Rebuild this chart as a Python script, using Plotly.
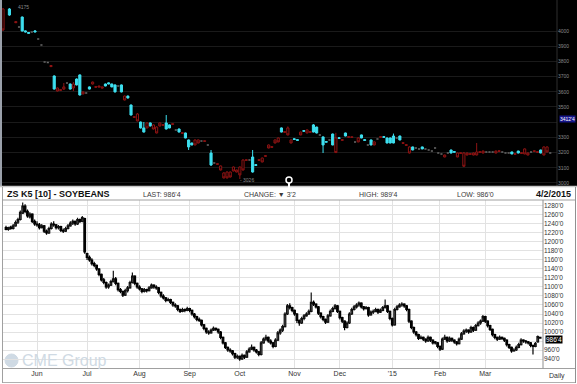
import pandas as pd
import plotly.graph_objects as go

W, H = 577, 384

# ---------------- bottom chart: ZS K5 daily (cents) ----------------
bot_open = [
    1232,1228,1233,1230,1236,1244,1250,1264,1280,1268,
    1256,1262,1246,1240,1238,1232,1236,1224,1220,1230,
    1240,1238,1232,1234,1226,1224,1230,1236,1242,1246,
    1240,1250,1246,1252,1174,1166,1160,1152,1148,1140,
    1128,1116,1110,1100,1104,1112,1118,1108,1094,1090,
    1082,1092,1098,1110,1124,1108,1100,1096,1090,1094,
    1092,1098,1104,1100,1098,1088,1080,1076,1070,1072,
    1066,1060,1058,1050,1046,1050,1048,1052,1048,1040,
    1034,1028,1026,1016,1008,1000,998,1004,1008,1006,
    1000,988,976,966,960,958,952,944,946,940,
    948,944,956,962,966,960,956,950,976,984,
    988,980,976,968,982,998,1004,1012,1040,1058,
    1054,1048,1040,1026,1020,1030,1036,1040,1046,1066,
    1062,1056,1042,1034,1028,1022,1036,1046,1052,1058,
    1046,1032,1024,1010,1020,1040,1050,1056,1060,1064,
    1056,1052,1054,1038,1044,1046,1050,1044,1048,1054,
    1058,1046,1030,1016,1050,1056,1060,1062,1058,1050,
    1024,1010,1000,994,986,988,984,980,988,982,
    978,976,968,962,984,988,980,986,982,978,
    974,984,996,1002,1004,1000,1010,1004,1014,1020,
    1024,1034,1024,1014,1006,994,988,984,988,986,
    982,972,966,958,960,966,972,982,980,978,
    976,970,968,978,988]
bot_high = [
    1236,1234,1236,1240,1248,1254,1270,1288,1284,1272,
    1266,1264,1250,1246,1242,1240,1238,1228,1234,1244,
    1246,1240,1238,1236,1230,1234,1240,1246,1250,1248,
    1254,1252,1258,1254,1176,1170,1164,1156,1150,1142,
    1130,1120,1112,1108,1116,1136,1122,1110,1098,1092,
    1096,1102,1114,1132,1126,1110,1104,1098,1098,1096,
    1102,1108,1106,1104,1100,1090,1084,1078,1076,1074,
    1068,1064,1060,1052,1054,1052,1056,1054,1050,1042,
    1036,1032,1028,1018,1010,1004,1008,1012,1010,1008,
    1002,990,978,968,964,960,954,950,948,952,
    950,960,966,972,968,962,958,980,988,994,
    990,984,978,986,1002,1008,1016,1044,1062,1064,
    1056,1050,1042,1028,1034,1040,1044,1050,1088,1070,
    1064,1058,1044,1036,1030,1040,1050,1056,1062,1060,
    1048,1034,1026,1024,1044,1054,1060,1064,1068,1066,
    1058,1058,1056,1048,1050,1054,1052,1052,1058,1072,
    1060,1048,1032,1054,1060,1064,1066,1064,1060,1052,
    1026,1012,1002,996,992,990,986,992,990,984,
    980,978,970,988,994,990,990,988,984,980,
    988,1000,1006,1008,1006,1014,1012,1018,1024,1028,
    1038,1036,1026,1016,1008,996,990,992,990,988,
    984,974,968,964,970,976,986,984,982,980,
    978,972,978,992,989.5]
bot_low = [
    1226,1225,1227,1228,1234,1240,1248,1262,1264,1254,
    1252,1242,1236,1234,1228,1230,1220,1216,1218,1228,
    1234,1228,1228,1222,1220,1222,1228,1234,1238,1236,
    1238,1242,1244,1174,1160,1156,1148,1144,1136,1124,
    1112,1106,1096,1096,1102,1110,1104,1090,1086,1078,
    1080,1088,1096,1108,1104,1096,1092,1086,1088,1088,
    1090,1096,1096,1094,1084,1076,1072,1066,1068,1062,
    1056,1054,1046,1042,1044,1044,1046,1044,1036,1030,
    1024,1022,1012,1004,996,994,996,1002,1002,996,
    984,972,962,956,954,948,940,940,936,938,
    940,942,954,960,956,952,946,948,974,980,
    976,972,964,966,980,994,1000,1010,1038,1050,
    1044,1036,1020,1014,1018,1026,1034,1038,1044,1058,
    1052,1038,1030,1024,1018,1020,1034,1044,1050,1042,
    1028,1020,1004,1008,1018,1038,1048,1052,1056,1052,
    1048,1050,1034,1036,1040,1044,1040,1042,1046,1052,
    1042,1026,1012,1014,1048,1054,1056,1054,1046,1020,
    1006,996,990,982,984,980,976,978,978,972,
    972,964,958,960,982,976,978,978,974,970,
    972,982,994,998,996,998,1000,1002,1012,1016,
    1022,1020,1010,1002,990,984,980,982,982,978,
    968,962,954,956,958,964,970,976,974,972,
    966,950,966,976,986]
bot_close = [
    1228,1232,1230,1236,1243,1250,1266,1280,1268,1258,
    1262,1246,1240,1238,1232,1236,1224,1220,1230,1240,
    1238,1232,1234,1226,1224,1230,1236,1242,1246,1240,
    1250,1246,1254,1178,1166,1160,1152,1148,1140,1128,
    1116,1110,1100,1104,1112,1118,1108,1094,1090,1082,
    1092,1098,1110,1124,1108,1100,1096,1090,1094,1092,
    1098,1104,1100,1098,1088,1080,1076,1070,1072,1066,
    1060,1058,1050,1046,1050,1048,1052,1048,1040,1034,
    1028,1026,1016,1008,1000,998,1004,1008,1006,1000,
    988,976,966,960,958,952,944,946,940,948,
    944,956,962,966,960,956,950,976,984,988,
    980,976,968,982,998,1004,1012,1040,1058,1054,
    1048,1040,1026,1020,1030,1036,1040,1046,1066,1062,
    1056,1042,1034,1028,1022,1036,1046,1052,1058,1046,
    1032,1024,1010,1020,1040,1050,1056,1060,1064,1056,
    1052,1054,1038,1044,1046,1050,1044,1048,1054,1058,
    1046,1030,1016,1050,1056,1060,1062,1058,1050,1024,
    1010,1000,994,986,988,984,980,988,982,976,
    976,968,962,984,988,980,986,982,978,974,
    984,996,1002,1004,1000,1010,1004,1014,1020,1024,
    1034,1024,1014,1006,994,988,984,988,986,982,
    972,966,958,960,966,972,982,980,978,976,
    970,968,974,989.75,986.5]

holidays = ["2014-05-26", "2014-07-04", "2014-09-01", "2014-11-27",
            "2014-12-25", "2015-01-01", "2015-01-19", "2015-02-16"]
dates = pd.bdate_range("2014-05-13", "2015-04-02", freq="C", holidays=holidays)

bot_price_ticks = list(range(940, 1281, 20))
# 980'0 sits under the last-price box in the original, so its text is hidden
bot_price_labels = ["" if v == 980 else f"{v}'0" for v in bot_price_ticks]

# ---------------- top chart (dark panel) ----------------
top_open = [
    4145,None,4105,None,4062,4026,4000,3993,3984,3993,
    3993,3947,3908,3796,3793,3773,3618,3625,3614,3632,
    3658,3618,3651,3645,3579,3599,3592,3618,3664,3634,
    3638,3632,3638,3651,3632,3599,3638,3599,3572,3559,
    3447,3436,3454,3362,3335,3395,3375,3382,3368,3395,
    3384,3355,3362,3390,3349,3335,3331,3296,3237,3250,
    3283,3283,3276,3278,3250,3118,3131,3127,3112,3066,
    3072,3072,3105,3085,3105,3151,3153,3151,3072,3115,
    3153,3164,3180,3250,3239,3283,3296,3335,3338,3362,
    3283,3286,3280,3335,3340,3349,3338,3335,3329,3316,
    3250,3268,3283,3250,3296,3293,3285,3309,3305,3304,
    3270,3296,3296,3280,3250,3250,3270,3289,3305,3300,
    3263,3263,3263,3296,3283,3265,3252,3237,3217,3230,
    3224,3224,3224,3217,3210,3230,3197,3191,3184,3197,
    3197,3202,3197,3199,3197,3197,3193,3197,3204,3206,
    3210,3204,3204,3204,3210,3212,3204,3197,3197,3191,
    3193,3197,3199,3224,3197,3204,3212,3206,3197,3237,
    3237,3197]
top_high = [
    4151,None,4151,None,4066,4029,4095,4002,3992,3996,
    4003,3950,3911,3799,3796,3776,3708,3628,3616,3658,
    3661,3654,3664,3688,3714,3602,3595,3635,3667,3636,
    3640,3634,3654,3660,3654,3648,3641,3648,3575,3575,
    3516,3438,3460,3404,3401,3398,3398,3385,3372,3398,
    3386,3447,3385,3392,3352,3358,3333,3331,3286,3265,
    3286,3286,3279,3280,3253,3217,3134,3129,3115,3070,
    3076,3075,3108,3088,3108,3155,3155,3154,3217,3122,
    3155,3167,3182,3253,3241,3286,3299,3365,3340,3372,
    3286,3292,3286,3338,3346,3352,3340,3388,3370,3319,
    3306,3274,3286,3325,3330,3299,3287,3331,3307,3306,
    3273,3300,3318,3286,3253,3286,3273,3292,3307,3306,
    3299,3299,3325,3299,3311,3267,3254,3240,3239,3233,
    3227,3239,3227,3220,3213,3233,3200,3194,3186,3200,
    3219,3208,3200,3201,3204,3200,3195,3200,3263,3208,
    3213,3207,3207,3207,3213,3214,3207,3200,3200,3206,
    3195,3212,3201,3227,3200,3207,3214,3208,3219,3240,
    3240,3200]
top_low = [
    4000,None,4100,None,4052,4023,3997,3990,3982,3990,
    3991,3944,3905,3793,3790,3762,3615,3602,3608,3612,
    3655,3615,3605,3642,3575,3584,3589,3615,3648,3628,
    3630,3623,3636,3649,3630,3596,3635,3596,3543,3556,
    3444,3430,3405,3358,3332,3360,3372,3352,3326,3372,
    3378,3352,3360,3384,3346,3333,3325,3294,3217,3248,
    3248,3261,3273,3272,3247,3112,3128,3121,3082,3030,
    3030,3036,3076,3070,3026,3082,3147,3148,3068,3113,
    3147,3136,3174,3228,3233,3261,3268,3333,3332,3314,
    3261,3284,3278,3314,3338,3327,3332,3333,3326,3313,
    3197,3266,3280,3248,3197,3291,3279,3307,3299,3298,
    3267,3268,3294,3278,3247,3248,3248,3286,3299,3298,
    3261,3261,3261,3293,3281,3259,3246,3194,3215,3227,
    3221,3222,3221,3214,3207,3227,3194,3188,3169,3194,
    3195,3200,3169,3193,3105,3182,3187,3182,3182,3200,
    3195,3201,3201,3201,3195,3206,3201,3194,3194,3189,
    3187,3195,3193,3189,3182,3201,3206,3200,3195,3182,
    3202,3194]
top_close = [
    4007,None,4145,None,4055,4026,4092,4000,3990,3993,
    4000,3947,3908,3796,3793,3766,3704,3605,3610,3618,
    3658,3651,3625,3684,3711,3586,3592,3632,3651,3630,
    3632,3625,3651,3658,3651,3645,3638,3645,3546,3572,
    3513,3432,3408,3401,3362,3362,3395,3355,3329,3375,
    3380,3395,3382,3386,3349,3355,3327,3329,3283,3263,
    3250,3263,3276,3274,3250,3197,3131,3123,3085,3033,
    3033,3039,3079,3072,3053,3085,3149,3151,3171,3120,
    3149,3138,3176,3230,3235,3263,3270,3362,3334,3316,
    3263,3290,3284,3316,3344,3329,3334,3382,3368,3316,
    3303,3272,3283,3322,3200,3297,3281,3329,3301,3300,
    3270,3270,3316,3284,3250,3283,3250,3289,3301,3304,
    3296,3296,3309,3296,3309,3261,3248,3197,3237,3230,
    3224,3237,3224,3217,3210,3230,3197,3191,3171,3197,
    3217,3206,3171,3195,3110,3184,3189,3184,3184,3202,
    3197,3204,3204,3204,3197,3208,3204,3197,3197,3204,
    3189,3210,3195,3191,3184,3204,3208,3202,3217,3184,
    3204,3197]
top_price_ticks = list(range(3000, 4001, 100))
# 3400 is covered by the 3412'4 marker in the original
top_price_labels = ["" if v == 3400 else str(v) for v in top_price_ticks]

FONT = "Arial, Liberation Sans, sans-serif"
CYAN = "#3ee0f0"
DRED = "#8e1414"
GRAY = "#6a6a6a"


def px(x):
    return x / W


def py(y):
    return 1 - y / H


fig = go.Figure()

# ---- top chart traces ----
ids = [i for i in range(len(top_open)) if top_open[i] is not None]
groups = {
    "up": [i for i in ids if top_close[i] > top_open[i]],
    "dn": [i for i in ids if top_close[i] < top_open[i]],
    "fl": [i for i in ids if top_close[i] == top_open[i]],
}
styles = {
    "up": dict(line=dict(color=CYAN, width=1), fillcolor=CYAN),
    "dn": dict(line=dict(color=DRED, width=1), fillcolor="#000000"),
    "fl": dict(line=dict(color=GRAY, width=1.5), fillcolor=GRAY),
}
for key, sel in groups.items():
    fig.add_trace(go.Candlestick(
        x=sel,
        open=[top_open[i] for i in sel], high=[top_high[i] for i in sel],
        low=[top_low[i] for i in sel], close=[top_close[i] for i in sel],
        increasing=styles[key], decreasing=styles[key],
        whiskerwidth=0, xaxis="x", yaxis="y", showlegend=False, hoverinfo="skip"))

# ---- bottom chart trace ----
n = len(bot_close)
fig.add_trace(go.Candlestick(
    x=list(range(n)), open=bot_open, high=bot_high, low=bot_low, close=bot_close,
    increasing=dict(line=dict(color="#111111", width=1.2), fillcolor="#7a7a7a"),
    decreasing=dict(line=dict(color="#000000", width=1.2), fillcolor="#000000"),
    whiskerwidth=0, xaxis="x2", yaxis="y2", showlegend=False, hoverinfo="skip"))

tickvals, ticktext = [], []
for i in range(1, min(n, len(dates)) - 5):
    if dates[i].month != dates[i - 1].month:
        tickvals.append(i)
        ticktext.append("'15" if dates[i].month == 1 else dates[i].strftime("%b"))

shapes = [
    # dark top panel
    dict(type="rect", xref="paper", yref="paper", x0=0, x1=1, y0=py(186), y1=1,
         fillcolor="#000000", line=dict(width=0), layer="below"),
    dict(type="line", xref="paper", yref="paper", x0=px(1), x1=px(1), y0=py(186), y1=1,
         line=dict(color="#9aa0aa", width=2)),
    dict(type="line", xref="paper", yref="paper", x0=px(557), x1=px(557), y0=py(186), y1=1,
         line=dict(color="#2e2e2e", width=1)),
    dict(type="line", xref="paper", yref="paper", x0=0, x1=1, y0=py(186.5), y1=py(186.5),
         line=dict(color="#c8c8c8", width=1.5)),
    # header / bottom frame
    dict(type="line", xref="paper", yref="paper", x0=px(2), x1=px(576), y0=py(200), y1=py(200),
         line=dict(color="#a0a0a0", width=1)),
    dict(type="line", xref="paper", yref="paper", x0=px(2), x1=px(576), y0=py(368.5), y1=py(368.5),
         line=dict(color="#a0a0a0", width=1)),
    dict(type="line", xref="paper", yref="paper", x0=px(2), x1=px(576), y0=py(382.5), y1=py(382.5),
         line=dict(color="#b0b0b0", width=1)),
    dict(type="line", xref="paper", yref="paper", x0=px(2.5), x1=px(2.5), y0=py(383), y1=py(187),
         line=dict(color="#a0a0a0", width=1)),
    dict(type="line", xref="paper", yref="paper", x0=px(543), x1=px(543), y0=py(368.5), y1=py(200),
         line=dict(color="#909090", width=1)),
    dict(type="line", xref="paper", yref="paper", x0=px(575.5), x1=px(575.5), y0=py(383), y1=py(187),
         line=dict(color="#909090", width=1)),
    # magnifier icon
    dict(type="circle", xref="paper", yref="paper", x0=px(286), x1=px(292), y0=py(183), y1=py(177),
         line=dict(color="#ffffff", width=1.5)),
    dict(type="line", xref="paper", yref="paper", x0=px(289), x1=px(289), y0=py(183), y1=py(188),
         line=dict(color="#ffffff", width=2)),
    # CME logo globe
    dict(type="circle", xref="paper", yref="paper", x0=px(5), x1=px(18), y0=py(367), y1=py(354),
         fillcolor="#cfdae4", line=dict(color="#cfdae4", width=1), layer="below"),
]


def ann(text, x, y, size=7, color="#333333", bold=False, xanchor="left", bg=None, fam=FONT):
    d = dict(text=f"<b>{text}</b>" if bold else text, x=px(x), y=py(y), xref="paper", yref="paper",
             xanchor=xanchor, yanchor="middle", showarrow=False,
             font=dict(family=fam, size=size, color=color))
    if bg:
        d.update(bgcolor=bg, borderpad=0)
    return d


annotations = [
    ann("ZS K5 [10] - SOYBEANS", 5, 194, size=9, color="#111111", bold=True),
    ann("LAST: 986'4", 141, 194, size=7, color="#3a3a3a"),
    ann("CHANGE: ▼ 3'2", 242, 194, size=7, color="#3a3a3a"),
    ann("HIGH: 989'4", 357, 194, size=7, color="#3a3a3a"),
    ann("LOW: 986'0", 455, 194, size=7, color="#3a3a3a"),
    ann("4/2/2015", 573, 194, size=9, color="#111111", bold=True, xanchor="right"),
    ann("Daily", 557, 375.5, size=7, color="#333333", xanchor="center"),
    ann("CME Group", 20, 360.5, size=16, color="#cfdae4"),
    ann("986'4", 545, 339, size=6.5, color="#ffffff", bg="#000000"),
    ann("3412'4", 559, 119, size=5, color="#ffffff", bg="#16168a"),
    ann("- 3026", 238, 180.5, size=5, color="#8a8a8a"),
    ann("4175", 16, 6.5, size=5, color="#8a8a8a"),
]

fig.update_layout(
    width=W, height=H, margin=dict(l=0, r=0, t=0, b=0),
    paper_bgcolor="#ffffff", plot_bgcolor="rgba(0,0,0,0)",
    showlegend=False, boxmode="overlay", boxgap=0.05,
    font=dict(family=FONT),
    shapes=shapes, annotations=annotations,
    xaxis=dict(domain=[0, px(557)], range=[-0.94, 173.1], anchor="y",
               showticklabels=False, showgrid=False, zeroline=False, ticks="",
               rangeslider=dict(visible=False), fixedrange=True),
    yaxis=dict(domain=[py(186), 1], range=[2980, 4204], anchor="x", side="right",
               tickvals=top_price_ticks, ticktext=top_price_labels,
               tickfont=dict(size=5, color="#8a8a8a"), gridcolor="#1a1a1a",
               zeroline=False, ticks="", showline=False, automargin=False),
    xaxis2=dict(domain=[px(3), px(543)], range=[-1.26, 225.2], anchor="y2",
                tickvals=tickvals, ticktext=ticktext, tickfont=dict(size=7, color="#333333"),
                showgrid=True, gridcolor="#e2e2e2", gridwidth=1, zeroline=False, ticks="",
                rangeslider=dict(visible=False), automargin=False),
    yaxis2=dict(domain=[py(368), py(200)], range=[920, 1293.3], anchor="x2", side="right",
                tickvals=bot_price_ticks, ticktext=bot_price_labels,
                tickfont=dict(size=6.5, color="#333333"), gridcolor="#e2e2e2",
                zeroline=False, ticks="", showline=False, automargin=False),
)

fig.write_html("out.html", config={"displayModeBar": False},
               post_script="document.body.style.margin='0px';"
                           "document.body.style.overflow='hidden';")
